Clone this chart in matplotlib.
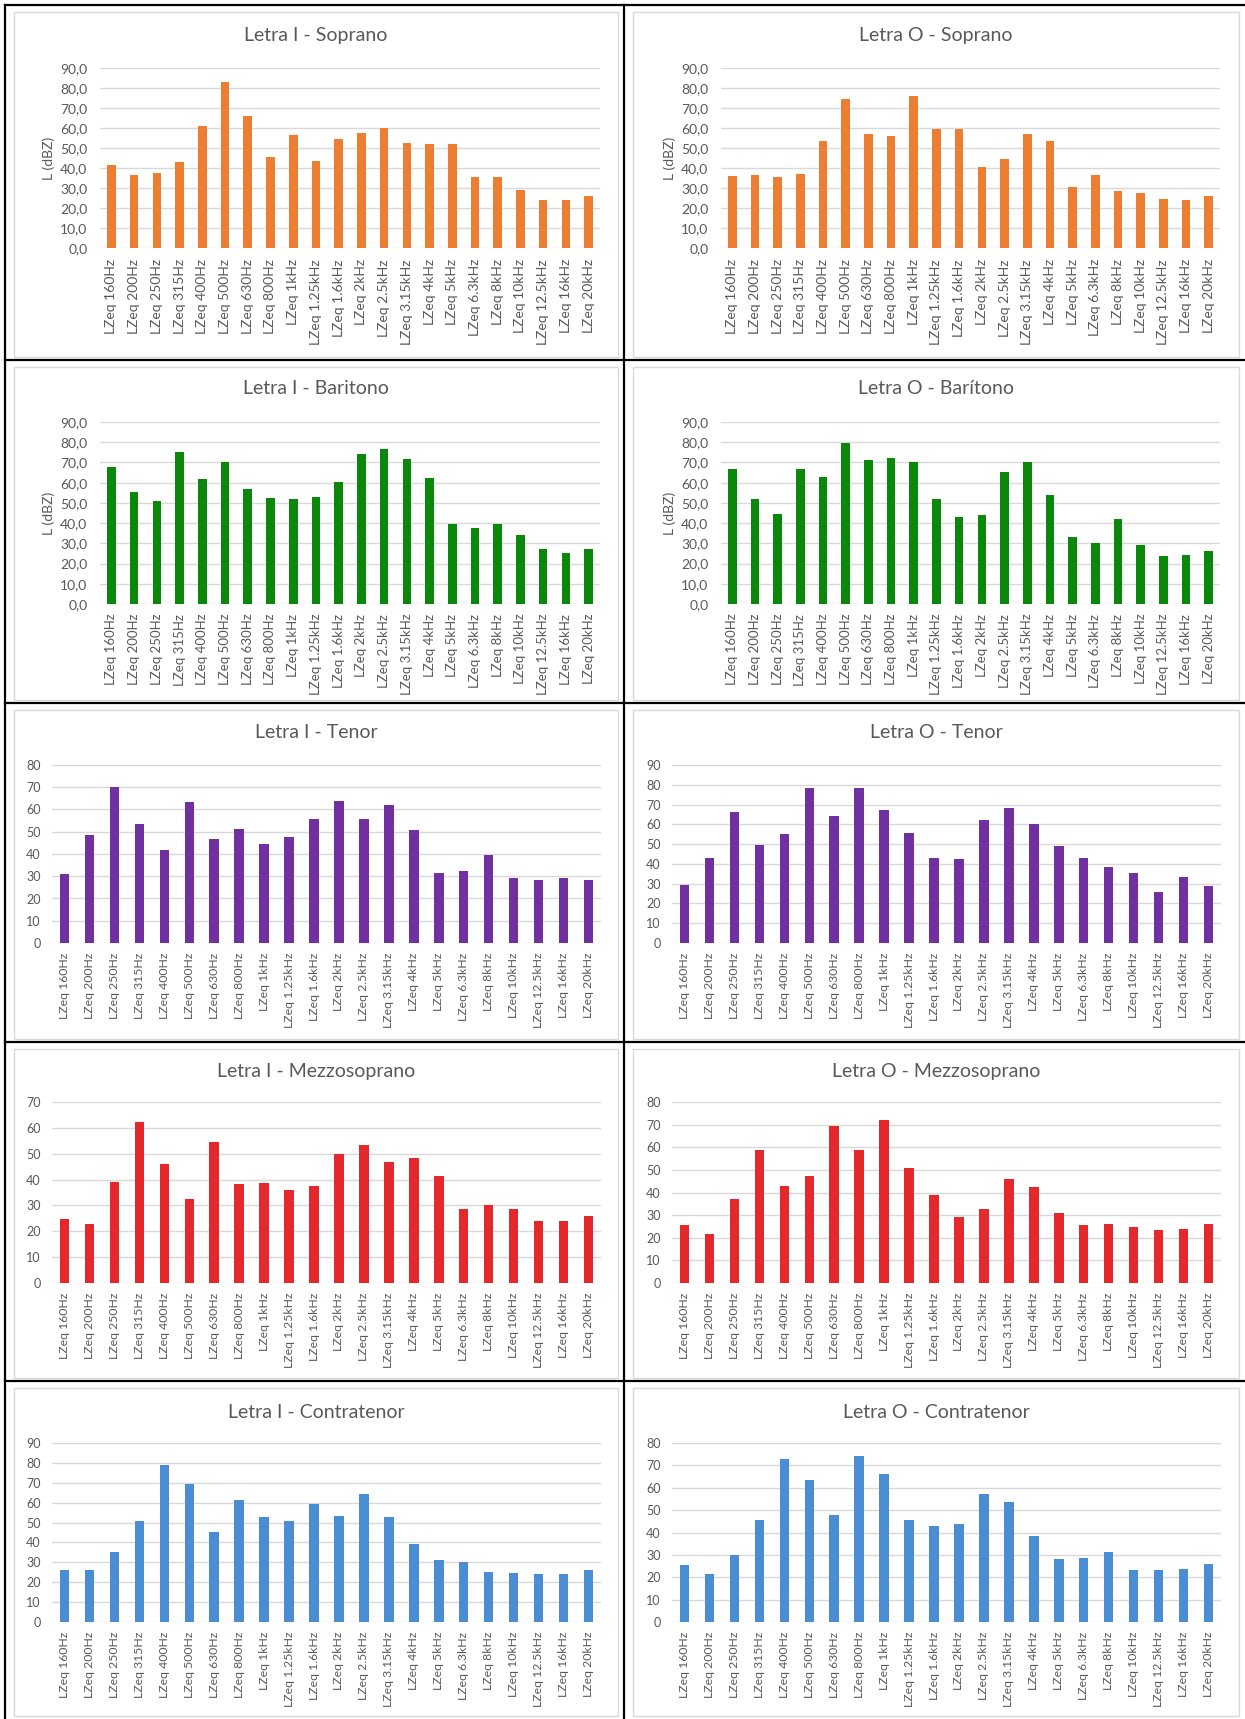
import matplotlib
matplotlib.use("Agg")
import matplotlib.pyplot as plt
from matplotlib.lines import Line2D
from matplotlib.patches import Rectangle

plt.rcParams['font.family'] = ['Lato', 'DejaVu Sans']

bands = ["LZeq 160Hz", "LZeq 200Hz", "LZeq 250Hz", "LZeq 315Hz", "LZeq 400Hz",
         "LZeq 500Hz", "LZeq 630Hz", "LZeq 800Hz", "LZeq 1kHz", "LZeq 1.25kHz",
         "LZeq 1.6kHz", "LZeq 2kHz", "LZeq 2.5kHz", "LZeq 3.15kHz", "LZeq 4kHz",
         "LZeq 5kHz", "LZeq 6.3kHz", "LZeq 8kHz", "LZeq 10kHz", "LZeq 12.5kHz",
         "LZeq 16kHz", "LZeq 20kHz"]

i_soprano = [41.7, 36.7, 37.5, 42.8, 60.8, 82.8, 66.2, 45.5, 56.7, 43.3, 54.5,
             57.5, 60.0, 52.5, 52.2, 52.2, 35.3, 35.3, 29.2, 24.2, 24.2, 25.8]
o_soprano = [35.8, 36.7, 35.3, 37.0, 53.7, 74.5, 57.0, 55.8, 76.2, 59.7, 59.5,
             40.3, 44.5, 57.0, 53.7, 30.5, 36.7, 28.7, 27.5, 24.5, 24.2, 25.8]
i_baritono = [67.8, 55.5, 51.1, 75.2, 61.7, 70.3, 56.7, 52.5, 51.9, 52.9, 60.3,
              74.1, 76.8, 71.6, 62.1, 39.6, 37.4, 39.6, 34.2, 27.1, 25.0, 27.1]
o_baritono = [66.8, 51.8, 44.6, 66.8, 62.7, 79.8, 71.3, 72.0, 70.0, 51.8, 43.0,
              44.0, 65.1, 70.0, 54.1, 33.2, 30.1, 41.9, 29.0, 23.9, 24.3, 26.4]
i_tenor = [30.8, 48.5, 70.0, 53.5, 41.8, 63.4, 46.7, 51.1, 44.7, 47.7, 55.7,
           63.8, 55.7, 62.0, 51.0, 31.5, 32.4, 39.5, 29.4, 28.5, 29.4, 28.2]
o_tenor = [29.2, 43.2, 66.2, 49.7, 55.3, 78.2, 64.3, 78.2, 67.3, 55.5, 43.2,
           42.5, 62.0, 68.5, 60.3, 49.0, 43.2, 38.3, 35.3, 26.0, 33.2, 28.7]
i_mezzo = [24.8, 23.0, 38.9, 62.1, 46.1, 32.3, 54.5, 38.2, 38.6, 35.8, 37.6,
           49.8, 53.3, 46.7, 48.3, 41.4, 28.6, 30.1, 28.6, 24.1, 24.1, 26.0]
o_mezzo = [25.5, 21.6, 37.2, 59.0, 42.7, 47.4, 69.6, 59.0, 72.0, 50.8, 38.7,
           29.3, 32.7, 45.9, 42.5, 31.1, 25.6, 25.9, 24.6, 23.3, 24.0, 25.9]
i_contra = [26.1, 26.1, 35.3, 50.9, 79.1, 69.5, 45.4, 61.1, 52.6, 50.6, 59.3,
            53.4, 64.3, 52.6, 39.4, 31.2, 30.0, 25.3, 24.6, 24.0, 24.0, 26.1]
o_contra = [25.4, 21.3, 30.0, 45.4, 72.9, 63.6, 47.9, 74.2, 66.0, 45.5, 42.8,
            43.9, 57.0, 53.7, 38.5, 28.1, 28.7, 31.2, 23.2, 23.2, 23.9, 25.7]

titles = [["Letra I - Soprano", "Letra O - Soprano"],
          ["Letra I - Baritono", "Letra O - Barítono"],
          ["Letra I - Tenor", "Letra O - Tenor"],
          ["Letra I - Mezzosoprano", "Letra O - Mezzosoprano"],
          ["Letra I - Contratenor", "Letra O - Contratenor"]]
series = [[i_soprano, o_soprano], [i_baritono, o_baritono], [i_tenor, o_tenor],
          [i_mezzo, o_mezzo], [i_contra, o_contra]]
ymaxes = [[90, 90], [90, 90], [80, 90], [70, 80], [90, 80]]
colors = ["#ED7D31", "#0B870B", "#7030A0", "#E5282C", "#4B8DD3"]

W, H = 1245, 1719
fig = plt.figure(figsize=(W / 100, H / 100), dpi=100)
fig.patch.set_facecolor("white")

def fx(x):
    return x / W

def fy(y):
    return 1 - y / H

row_bounds = [(5, 360), (360, 703), (703, 1042), (1042, 1381), (1381, 1719)]
col_bounds = [(5, 624), (624, 1245)]
axes_y = [(68, 248), (422, 604), (765, 943), (1102, 1283), (1443, 1622)]
title_y = [35, 388, 732, 1071, 1412]
xlabel_size = [10.0, 9.5, 8.8, 8.8, 8.8]
xlabel_pad = [8, 7, 7, 7, 7]

gray = "#595959"

for r in range(5):
    y0, y1 = row_bounds[r]
    for c in range(2):
        x0, x1 = col_bounds[c]
        rect = Rectangle((fx(x0 + 9), fy(y1 - 3)), fx(x1 - 6) - fx(x0 + 9),
                         fy(y0 + 7) - fy(y1 - 3), transform=fig.transFigure,
                         facecolor="white", edgecolor="#D9D9D9", linewidth=1.0,
                         zorder=0)
        fig.add_artist(rect)
        decimals = r < 2
        if decimals:
            ax_l, ax_r = (100, 600) if c == 0 else (721, 1220)
        else:
            ax_l, ax_r = (52, 601) if c == 0 else (672, 1221)
        at, ab = axes_y[r]
        ax = fig.add_axes([fx(ax_l), fy(ab), fx(ax_r) - fx(ax_l), fy(at) - fy(ab)])
        ax.set_facecolor("none")
        vals = series[r][c]
        ymax = ymaxes[r][c]
        ax.bar(range(len(bands)), vals, width=0.38, color=colors[r], zorder=3)
        ax.set_xlim(-0.5, len(bands) - 0.5)
        ax.set_ylim(0, ymax)
        ticks = list(range(0, ymax + 1, 10))
        ax.set_yticks(ticks)
        if decimals:
            ax.set_yticklabels([f"{t:.1f}".replace(".", ",") for t in ticks])
        else:
            ax.set_yticklabels([str(t) for t in ticks])
        ax.grid(axis="y", color="#D9D9D9", linewidth=1.0, zorder=0)
        ax.set_axisbelow(True)
        for s in ax.spines.values():
            s.set_visible(False)
        ax.set_xticks(range(len(bands)))
        ax.set_xticklabels(bands, rotation=90, fontsize=xlabel_size[r], color=gray)
        ax.tick_params(axis="both", length=0, colors=gray)
        ax.tick_params(axis="y", labelsize=10 if decimals else 9, pad=9 if decimals else 8)
        ax.tick_params(axis="x", pad=xlabel_pad[r])
        if decimals:
            ax.set_ylabel("L (dBZ)", fontsize=10, color=gray, labelpad=4)
        cx = (x0 + 9 + x1 - 6) / 2
        fig.text(fx(cx), fy(title_y[r]), titles[r][c], ha="center", va="center",
                 fontsize=14, color=gray)

for yb in [5, 360, 703, 1042, 1381]:
    fig.add_artist(Line2D([fx(5), fx(1245)], [fy(yb), fy(yb)], color="black",
                          linewidth=1.6, transform=fig.transFigure, zorder=5))
for xb in [5, 624]:
    fig.add_artist(Line2D([fx(xb), fx(xb)], [fy(5), fy(1719)], color="black",
                          linewidth=1.6, transform=fig.transFigure, zorder=5))

fig.savefig("out.png", dpi=100, facecolor="white")
